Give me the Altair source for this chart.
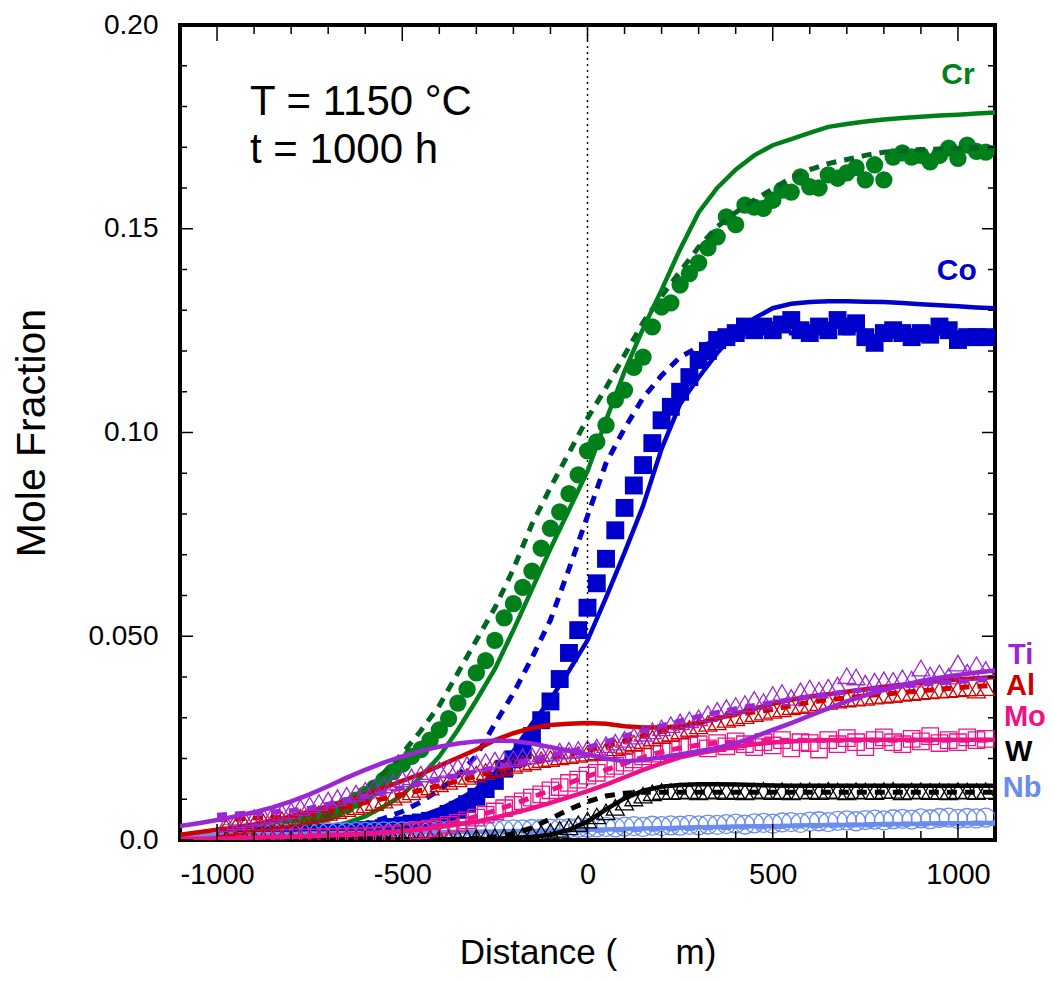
import altair as alt
import pandas as pd

# ---------------- data ----------------
x_line = [-1100, -1050, -1000, -950, -900, -850, -800, -750, -700, -650,
          -600, -550, -500, -450, -400, -350, -300, -250, -200, -150,
          -100, -50, 0, 50, 100, 150, 200, 250, 300, 350,
          400, 450, 500, 550, 600, 650, 700, 750, 800, 850,
          900, 950, 1000, 1050, 1100]

x_meas = [-975, -950, -925, -900, -875, -850, -825, -800, -775, -750,
          -725, -700, -675, -650, -625, -600, -575, -550, -525, -500,
          -475, -450, -425, -400, -375, -350, -325, -300, -275, -250,
          -225, -200, -175, -150, -125, -100, -75, -50, -25, 0,
          25, 50, 75, 100, 125, 150, 175, 200, 225, 250,
          275, 300, 325, 350, 375, 400, 425, 450, 475, 500,
          525, 550, 575, 600, 625, 650, 675, 700, 725, 750,
          775, 800, 825, 850, 875, 900, 925, 950, 975, 1000,
          1025, 1050, 1075]

# Cr
cr_meas = [0.0010, 0.0011, 0.0013, 0.0017, 0.0022, 0.0026, 0.0031, 0.0036, 0.0043, 0.0050,
           0.0058, 0.0066, 0.0075, 0.0085, 0.0098, 0.0112, 0.0128, 0.0147, 0.0168, 0.0186,
           0.0205, 0.0222, 0.0245, 0.0270, 0.0298, 0.0336, 0.0370, 0.0410, 0.0440, 0.0490,
           0.0545, 0.0580, 0.0620, 0.0660, 0.0716, 0.0765, 0.0805, 0.0850, 0.0896, 0.0955,
           0.0977, 0.1018, 0.1080, 0.1104, 0.1160, 0.1185, 0.1259, 0.1308, 0.1318, 0.1362,
           0.1390, 0.1416, 0.1453, 0.1480, 0.1529, 0.1510, 0.1558, 0.1553, 0.1550, 0.1570,
           0.1595, 0.1590, 0.1627, 0.1603, 0.1600, 0.1632, 0.1624, 0.1637, 0.1650, 0.1620,
           0.1657, 0.1620, 0.1676, 0.1686, 0.1676, 0.1680, 0.1664, 0.1680, 0.1698, 0.1673,
           0.1705, 0.1690, 0.1688]
cr_solid = [0.0005, 0.0007, 0.0009, 0.0011, 0.0013, 0.0016, 0.0020, 0.0025, 0.0032, 0.0042,
            0.0058, 0.0082, 0.0110, 0.0155, 0.0205, 0.0270, 0.0343, 0.0420, 0.0515, 0.0615,
            0.0715, 0.0810, 0.0905, 0.1030, 0.1150, 0.1255, 0.1350, 0.1450, 0.1540, 0.1600,
            0.1645, 0.1680, 0.1705, 0.1720, 0.1735, 0.1750, 0.1757, 0.1763, 0.1768, 0.1772,
            0.1775, 0.1778, 0.1780, 0.1783, 0.1785]
cr_dash = [0.0005, 0.0007, 0.0009, 0.0012, 0.0016, 0.0022, 0.0030, 0.0042, 0.0060, 0.0085,
           0.0120, 0.0165, 0.0212, 0.0268, 0.0330, 0.0410, 0.0490, 0.0570, 0.0665, 0.0775,
           0.0865, 0.0950, 0.1035, 0.1110, 0.1190, 0.1270, 0.1335, 0.1395, 0.1455, 0.1505,
           0.1540, 0.1570, 0.1598, 0.1625, 0.1645, 0.1660, 0.1670, 0.1680, 0.1688, 0.1692,
           0.1694, 0.1696, 0.1697, 0.1698, 0.1699]

# Co
co_meas = [0.0010, 0.0010, 0.0010, 0.0010, 0.0011, 0.0012, 0.0012, 0.0013, 0.0014, 0.0015,
           0.0016, 0.0017, 0.0018, 0.0020, 0.0022, 0.0024, 0.0026, 0.0029, 0.0032, 0.0036,
           0.0040, 0.0043, 0.0047, 0.0052, 0.0064, 0.0074, 0.0088, 0.0106, 0.0125, 0.0145,
           0.0175, 0.0198, 0.0220, 0.0255, 0.0294, 0.0340, 0.0395, 0.0459, 0.0515, 0.0570,
           0.0630, 0.0690, 0.0760, 0.0815, 0.0870, 0.0920, 0.0974, 0.1030, 0.1063, 0.1100,
           0.1136, 0.1178, 0.1200, 0.1227, 0.1234, 0.1244, 0.1260, 0.1251, 0.1260, 0.1251,
           0.1265, 0.1276, 0.1251, 0.1244, 0.1260, 0.1251, 0.1276, 0.1260, 0.1268, 0.1234,
           0.1220, 0.1244, 0.1251, 0.1244, 0.1234, 0.1244, 0.1240, 0.1260, 0.1251, 0.1227,
           0.1234, 0.1234, 0.1234]
co_solid = [0.0003, 0.0004, 0.0005, 0.0006, 0.0007, 0.0008, 0.0010, 0.0012, 0.0015, 0.0019,
            0.0025, 0.0033, 0.0044, 0.0058, 0.0075, 0.0098, 0.0125, 0.0165, 0.0218, 0.0285,
            0.0345, 0.0415, 0.0490, 0.0595, 0.0705, 0.0820, 0.0960, 0.1070, 0.1135, 0.1195,
            0.1245, 0.1280, 0.1305, 0.1316, 0.1320, 0.1322, 0.1322, 0.1321, 0.1320, 0.1318,
            0.1315, 0.1312, 0.1310, 0.1307, 0.1305]
co_dash = [0.0003, 0.0004, 0.0005, 0.0006, 0.0008, 0.0010, 0.0013, 0.0017, 0.0022, 0.0030,
           0.0040, 0.0053, 0.0070, 0.0093, 0.0123, 0.0158, 0.0207, 0.0285, 0.0360, 0.0447,
           0.0540, 0.0665, 0.0795, 0.0925, 0.1010, 0.1085, 0.1140, 0.1185, 0.1210, 0.1225,
           0.1235, 0.1240, 0.1243, 0.1244, 0.1245, 0.1245, 0.1245, 0.1245, 0.1245, 0.1245,
           0.1245, 0.1245, 0.1245, 0.1245, 0.1245]

# Ti
ti_meas = [0.0040, 0.0045, 0.0050, 0.0055, 0.0058, 0.0062, 0.0068, 0.0072, 0.0080, 0.0086,
           0.0092, 0.0098, 0.0104, 0.0110, 0.0115, 0.0122, 0.0128, 0.0135, 0.0142, 0.0150,
           0.0155, 0.0162, 0.0168, 0.0172, 0.0176, 0.0180, 0.0185, 0.0188, 0.0192, 0.0196,
           0.0198, 0.0200, 0.0204, 0.0207, 0.0212, 0.0213, 0.0218, 0.0220, 0.0222, 0.0225,
           0.0228, 0.0234, 0.0240, 0.0247, 0.0255, 0.0262, 0.0268, 0.0275, 0.0283, 0.0290,
           0.0295, 0.0300, 0.0310, 0.0318, 0.0325, 0.0330, 0.0335, 0.0345, 0.0340, 0.0357,
           0.0362, 0.0350, 0.0366, 0.0373, 0.0368, 0.0375, 0.0380, 0.0403, 0.0400, 0.0385,
           0.0390, 0.0393, 0.0392, 0.0398, 0.0395, 0.0422, 0.0405, 0.0410, 0.0402, 0.0434,
           0.0412, 0.0430, 0.0418]
ti_solid = [0.0034, 0.0041, 0.0049, 0.0058, 0.0068, 0.0080, 0.0095, 0.0112, 0.0132, 0.0153,
            0.0172, 0.0190, 0.0205, 0.0218, 0.0229, 0.0237, 0.0242, 0.0244, 0.0243, 0.0237,
            0.0228, 0.0219, 0.0210, 0.0200, 0.0193, 0.0196, 0.0203, 0.0210, 0.0218, 0.0226,
            0.0237, 0.0253, 0.0270, 0.0287, 0.0305, 0.0323, 0.0340, 0.0355, 0.0368, 0.0380,
            0.0390, 0.0398, 0.0405, 0.0411, 0.0416]
ti_dash = [0.0055, 0.0058, 0.0061, 0.0064, 0.0067, 0.0069, 0.0072, 0.0078, 0.0088, 0.0098,
           0.0108, 0.0118, 0.0128, 0.0138, 0.0148, 0.0158, 0.0168, 0.0178, 0.0188, 0.0198,
           0.0208, 0.0217, 0.0227, 0.0241, 0.0255, 0.0268, 0.0280, 0.0292, 0.0303, 0.0313,
           0.0322, 0.0330, 0.0337, 0.0345, 0.0352, 0.0358, 0.0364, 0.0369, 0.0374, 0.0378,
           0.0382, 0.0386, 0.0389, 0.0392, 0.0395]

# Al
al_meas = [0.0030, 0.0033, 0.0036, 0.0040, 0.0044, 0.0047, 0.0050, 0.0053, 0.0056, 0.0060,
           0.0064, 0.0068, 0.0072, 0.0077, 0.0082, 0.0086, 0.0092, 0.0098, 0.0105, 0.0112,
           0.0118, 0.0124, 0.0130, 0.0138, 0.0144, 0.0150, 0.0156, 0.0162, 0.0168, 0.0174,
           0.0178, 0.0183, 0.0188, 0.0192, 0.0197, 0.0200, 0.0204, 0.0207, 0.0210, 0.0213,
           0.0216, 0.0220, 0.0226, 0.0232, 0.0238, 0.0243, 0.0250, 0.0256, 0.0262, 0.0268,
           0.0274, 0.0280, 0.0286, 0.0290, 0.0296, 0.0300, 0.0305, 0.0310, 0.0314, 0.0318,
           0.0322, 0.0327, 0.0330, 0.0333, 0.0337, 0.0340, 0.0343, 0.0346, 0.0348, 0.0350,
           0.0353, 0.0355, 0.0357, 0.0360, 0.0362, 0.0364, 0.0366, 0.0368, 0.0369, 0.0371,
           0.0373, 0.0368, 0.0374]
al_solid = [0.0013, 0.0019, 0.0025, 0.0031, 0.0038, 0.0048, 0.0058, 0.0070, 0.0083, 0.0097,
            0.0112, 0.0128, 0.0145, 0.0162, 0.0182, 0.0202, 0.0222, 0.0245, 0.0262, 0.0275,
            0.0282, 0.0285, 0.0287, 0.0285, 0.0279, 0.0276, 0.0276, 0.0279, 0.0287, 0.0298,
            0.0310, 0.0322, 0.0334, 0.0344, 0.0352, 0.0358, 0.0364, 0.0370, 0.0376, 0.0381,
            0.0386, 0.0390, 0.0394, 0.0397, 0.0400]
al_dash = [0.0045, 0.0047, 0.0050, 0.0052, 0.0054, 0.0055, 0.0058, 0.0064, 0.0072, 0.0082,
           0.0092, 0.0102, 0.0112, 0.0122, 0.0133, 0.0145, 0.0157, 0.0169, 0.0180, 0.0190,
           0.0200, 0.0210, 0.0220, 0.0230, 0.0243, 0.0256, 0.0266, 0.0277, 0.0288, 0.0299,
           0.0308, 0.0314, 0.0320, 0.0330, 0.0338, 0.0344, 0.0349, 0.0354, 0.0358, 0.0362,
           0.0366, 0.0370, 0.0374, 0.0377, 0.0380]

# Mo
mo_meas = [0.0005, 0.0005, 0.0005, 0.0005, 0.0005, 0.0005, 0.0005, 0.0006, 0.0006, 0.0006,
           0.0006, 0.0007, 0.0007, 0.0008, 0.0008, 0.0009, 0.0010, 0.0012, 0.0014, 0.0017,
           0.0020, 0.0024, 0.0028, 0.0032, 0.0037, 0.0042, 0.0048, 0.0055, 0.0062, 0.0070,
           0.0078, 0.0086, 0.0095, 0.0104, 0.0112, 0.0122, 0.0130, 0.0140, 0.0148, 0.0158,
           0.0165, 0.0175, 0.0182, 0.0190, 0.0198, 0.0205, 0.0212, 0.0218, 0.0222, 0.0228,
           0.0232, 0.0235, 0.0225, 0.0238, 0.0230, 0.0242, 0.0235, 0.0228, 0.0240, 0.0232,
           0.0245, 0.0225, 0.0240, 0.0238, 0.0222, 0.0245, 0.0235, 0.0250, 0.0240, 0.0228,
           0.0245, 0.0252, 0.0240, 0.0235, 0.0248, 0.0242, 0.0255, 0.0238, 0.0245, 0.0240,
           0.0252, 0.0245, 0.0248]
mo_solid = [0.0003, 0.0003, 0.0004, 0.0005, 0.0006, 0.0007, 0.0008, 0.0009, 0.0011, 0.0013,
            0.0015, 0.0018, 0.0022, 0.0026, 0.0032, 0.0038, 0.0045, 0.0055, 0.0066, 0.0078,
            0.0091, 0.0105, 0.0120, 0.0136, 0.0154, 0.0172, 0.0188, 0.0203, 0.0213, 0.0221,
            0.0229, 0.0235, 0.0239, 0.0242, 0.0244, 0.0245, 0.0246, 0.0246, 0.0246, 0.0246,
            0.0246, 0.0246, 0.0246, 0.0246, 0.0246]
mo_dash = [0.0003, 0.0003, 0.0004, 0.0005, 0.0006, 0.0007, 0.0008, 0.0010, 0.0012, 0.0014,
           0.0016, 0.0019, 0.0022, 0.0028, 0.0035, 0.0045, 0.0058, 0.0072, 0.0088, 0.0105,
           0.0122, 0.0140, 0.0156, 0.0172, 0.0188, 0.0203, 0.0216, 0.0226, 0.0233, 0.0238,
           0.0241, 0.0243, 0.0244, 0.0245, 0.0245, 0.0245, 0.0245, 0.0245, 0.0245, 0.0245,
           0.0245, 0.0245, 0.0245, 0.0245, 0.0245]

# W
w_meas = [0.0003, 0.0003, 0.0003, 0.0003, 0.0003, 0.0003, 0.0003, 0.0003, 0.0003, 0.0003,
          0.0003, 0.0003, 0.0003, 0.0003, 0.0003, 0.0003, 0.0003, 0.0003, 0.0003, 0.0003,
          0.0003, 0.0003, 0.0004, 0.0004, 0.0004, 0.0005, 0.0005, 0.0006, 0.0007, 0.0008,
          0.0008, 0.0009, 0.0011, 0.0013, 0.0016, 0.0020, 0.0026, 0.0032, 0.0040, 0.0049,
          0.0059, 0.0069, 0.0080, 0.0093, 0.0103, 0.0110, 0.0116, 0.0119, 0.0119, 0.0120,
          0.0121, 0.0118, 0.0120, 0.0122, 0.0119, 0.0121, 0.0118, 0.0120, 0.0122, 0.0119,
          0.0121, 0.0118, 0.0120, 0.0121, 0.0119, 0.0122, 0.0120, 0.0118, 0.0121, 0.0120,
          0.0119, 0.0121, 0.0122, 0.0118, 0.0120, 0.0121, 0.0119, 0.0120, 0.0118, 0.0121,
          0.0120, 0.0119, 0.0121]
w_solid = [0.0002, 0.0002, 0.0002, 0.0002, 0.0002, 0.0002, 0.0002, 0.0002, 0.0002, 0.0002,
           0.0002, 0.0002, 0.0002, 0.0002, 0.0002, 0.0002, 0.0002, 0.0003, 0.0005, 0.0008,
           0.0013, 0.0025, 0.0045, 0.0075, 0.0102, 0.0121, 0.0131, 0.0135, 0.0137, 0.0137,
           0.0136, 0.0135, 0.0134, 0.0133, 0.0133, 0.0133, 0.0133, 0.0133, 0.0133, 0.0133,
           0.0133, 0.0133, 0.0133, 0.0133, 0.0133]
w_dash = [0.0002, 0.0002, 0.0002, 0.0002, 0.0002, 0.0002, 0.0002, 0.0002, 0.0002, 0.0002,
          0.0002, 0.0002, 0.0002, 0.0002, 0.0002, 0.0002, 0.0004, 0.0008, 0.0015, 0.0030,
          0.0052, 0.0075, 0.0094, 0.0108, 0.0115, 0.0117, 0.0117, 0.0117, 0.0117, 0.0117,
          0.0117, 0.0117, 0.0117, 0.0117, 0.0117, 0.0117, 0.0117, 0.0117, 0.0117, 0.0117,
          0.0117, 0.0117, 0.0117, 0.0117, 0.0117]

# Nb
nb_meas = [0.0015, 0.0015, 0.0016, 0.0016, 0.0016, 0.0017, 0.0017, 0.0017, 0.0018, 0.0018,
           0.0018, 0.0019, 0.0019, 0.0019, 0.0020, 0.0020, 0.0020, 0.0021, 0.0021, 0.0021,
           0.0022, 0.0022, 0.0022, 0.0023, 0.0023, 0.0023, 0.0024, 0.0024, 0.0024, 0.0025,
           0.0025, 0.0026, 0.0026, 0.0027, 0.0027, 0.0028, 0.0028, 0.0029, 0.0030, 0.0030,
           0.0031, 0.0032, 0.0031, 0.0033, 0.0034, 0.0032, 0.0035, 0.0034, 0.0036, 0.0035,
           0.0037, 0.0036, 0.0038, 0.0037, 0.0039, 0.0040, 0.0038, 0.0041, 0.0042, 0.0040,
           0.0043, 0.0044, 0.0042, 0.0045, 0.0046, 0.0044, 0.0047, 0.0048, 0.0046, 0.0049,
           0.0050, 0.0048, 0.0051, 0.0052, 0.0050, 0.0053, 0.0051, 0.0054, 0.0055, 0.0052,
           0.0054, 0.0053, 0.0055]
nb_solid = [0.0012, 0.0013, 0.0013, 0.0014, 0.0014, 0.0015, 0.0015, 0.0016, 0.0016, 0.0017,
            0.0017, 0.0018, 0.0018, 0.0019, 0.0019, 0.0020, 0.0020, 0.0021, 0.0022, 0.0022,
            0.0023, 0.0024, 0.0025, 0.0026, 0.0027, 0.0028, 0.0029, 0.0030, 0.0031, 0.0032,
            0.0033, 0.0034, 0.0034, 0.0035, 0.0036, 0.0037, 0.0037, 0.0038, 0.0039, 0.0039,
            0.0040, 0.0041, 0.0041, 0.0042, 0.0042]
nb_dash = [0.0010, 0.0010, 0.0011, 0.0011, 0.0012, 0.0012, 0.0013, 0.0013, 0.0014, 0.0014,
           0.0015, 0.0015, 0.0016, 0.0016, 0.0017, 0.0017, 0.0018, 0.0019, 0.0019, 0.0020,
           0.0021, 0.0022, 0.0023, 0.0024, 0.0025, 0.0026, 0.0027, 0.0028, 0.0029, 0.0030,
           0.0031, 0.0032, 0.0033, 0.0034, 0.0035, 0.0036, 0.0037, 0.0037, 0.0038, 0.0039,
           0.0039, 0.0040, 0.0040, 0.0041, 0.0041]

# axis ticks
x_major = [-1000, -500, 0, 500, 1000]
x_minor = [-1100, -900, -800, -700, -600, -400, -300, -200, -100,
           100, 200, 300, 400, 600, 700, 800, 900, 1100]
y_major = [0.0, 0.05, 0.10, 0.15, 0.20]
y_minor = [0.01, 0.02, 0.03, 0.04, 0.06, 0.07, 0.08, 0.09,
           0.11, 0.12, 0.13, 0.14, 0.16, 0.17, 0.18, 0.19]

# annotations
cond_text = ["T = 1150 °C", "t = 1000 h"]
cond_x = [-911, -911]
cond_y = [0.1779, 0.1661]

inner_labels = ["Cr", "Co"]
inner_x = [1000, 997]
inner_y = [0.1877, 0.1396]
inner_colors = ["#00801A", "#0000CC"]

outer_labels = ["Ti", "Al", "Mo", "W", "Nb"]
outer_x = [1135, 1130, 1124, 1127, 1121]
outer_y = [0.0454, 0.0378, 0.0302, 0.0216, 0.0128]
outer_colors = ["#9B26D4", "#D00000", "#EE1188", "#000000", "#6A8CF0"]

# ---------------- chart ----------------
W, H = 815, 815
FONT = "Liberation Sans"
NB = "\u00a0"

xscale = alt.Scale(domain=[-1100, 1100], nice=False, zero=False)
yscale = alt.Scale(domain=[0, 0.2], nice=False, zero=False)

xaxis = alt.Axis(values=x_major, labelExpr="'' + datum.value",
                 title="Distance (" + NB * 6 + "m)", labelFontSize=29, titleFontSize=35,
                 labelFont=FONT, titleFont=FONT, titleFontWeight="normal",
                 ticks=False, tickSize=0, domain=False, grid=False,
                 labelPadding=20, titlePadding=46, labelColor="black",
                 titleColor="black", labelFlush=False)
yaxis = alt.Axis(values=y_major,
                 labelExpr="datum.value == 0 ? '0.0' : (abs(datum.value - 0.05) < 1e-9 ? '0.050' : format(datum.value, '.2f'))",
                 title="Mole Fraction", labelFontSize=28, titleFontSize=41,
                 labelFont=FONT, titleFont=FONT, titleFontWeight="normal",
                 ticks=False, tickSize=0, domain=False, grid=False,
                 labelPadding=22, titlePadding=34, labelColor="black",
                 titleColor="black", labelFlush=False)


def X():
    return alt.X("x:Q", scale=xscale, axis=xaxis)


def Y():
    return alt.Y("y:Q", scale=yscale, axis=yaxis)


layers = []

# dotted zero line
zero_df = pd.DataFrame({"x": [0, 0], "y": [0.0, 0.2]})
layers.append(alt.Chart(zero_df).mark_line(color="black", strokeWidth=1.4,
                                           strokeDash=[2, 4]).encode(x=X(), y=Y()))


def line(xs, ys, color, dashed=False):
    df = pd.DataFrame({"x": xs, "y": ys})
    if dashed:
        df = df[df["x"] >= -1000]
        m = alt.Chart(df).mark_line(color=color, strokeWidth=5, strokeDash=[10, 8],
                                    clip=True)
    else:
        m = alt.Chart(df).mark_line(color=color, strokeWidth=4.5, clip=True)
    return m.encode(x=X(), y=Y())


def points(xs, ys, color, shape, filled, size):
    df = pd.DataFrame({"x": xs, "y": ys})
    if filled:
        m = alt.Chart(df).mark_point(shape=shape, filled=True, color=color, size=size,
                                     opacity=1, clip=True)
    else:
        m = alt.Chart(df).mark_point(shape=shape, filled=False, color=color, size=size,
                                     opacity=1, strokeWidth=1.3, clip=True)
    return m.encode(x=X(), y=Y())


series = [
    # meas, solid, dash, color, dash color, shape, filled, size
    (cr_meas, cr_solid, cr_dash, "#00801A", "#006622", "circle", True, 300),
    (co_meas, co_solid, co_dash, "#0000CC", "#0000CC", "square", True, 320),
    (nb_meas, nb_solid, nb_dash, "#6A8CF0", "#6A8CF0", "circle", False, 360),
    (w_meas, w_solid, w_dash, "#000000", "#000000", "triangle-up", False, 320),
    (mo_meas, mo_solid, mo_dash, "#EE1188", "#EE1188", "square", False, 270),
    (al_meas, al_solid, al_dash, "#D00000", "#D00000", "triangle-up", False, 320),
    (ti_meas, ti_solid, ti_dash, "#9B26D4", "#9B26D4", "triangle-up", False, 320),
]

for meas, solid, dash, col, dcol, shape, filled, size in series:
    layers.append(points(x_meas, meas, col, shape, filled, size))
    layers.append(line(x_line, dash, dcol, dashed=True))
    layers.append(line(x_line, solid, col))

# inward ticks on all four sides
ymaj_df = pd.DataFrame({"y": y_major})
ymin_df = pd.DataFrame({"y": y_minor})
xmaj_df = pd.DataFrame({"x": x_major})
xmin_df = pd.DataFrame({"x": x_minor})
tick = dict(color="black", strokeWidth=1.5)
layers += [
    alt.Chart(ymaj_df).mark_rule(**tick).encode(y=Y(), x=alt.value(0), x2=alt.value(13)),
    alt.Chart(ymin_df).mark_rule(**tick).encode(y=Y(), x=alt.value(0), x2=alt.value(7)),
    alt.Chart(ymaj_df).mark_rule(**tick).encode(y=Y(), x=alt.value(W), x2=alt.value(W - 13)),
    alt.Chart(ymin_df).mark_rule(**tick).encode(y=Y(), x=alt.value(W), x2=alt.value(W - 7)),
    alt.Chart(xmaj_df).mark_rule(**tick).encode(x=X(), y=alt.value(0), y2=alt.value(16)),
    alt.Chart(xmin_df).mark_rule(**tick).encode(x=X(), y=alt.value(0), y2=alt.value(9)),
    alt.Chart(xmaj_df).mark_rule(**tick).encode(x=X(), y=alt.value(H), y2=alt.value(H - 16)),
    alt.Chart(xmin_df).mark_rule(**tick).encode(x=X(), y=alt.value(H), y2=alt.value(H - 9)),
]

# annotations
cond_df = pd.DataFrame({"x": cond_x, "y": cond_y, "t": cond_text})
layers.append(alt.Chart(cond_df).mark_text(align="left", baseline="alphabetic", font=FONT,
                                           fontSize=42, color="black")
              .encode(x=X(), y=Y(), text="t:N"))

for lab, lx, ly, c in zip(inner_labels, inner_x, inner_y, inner_colors):
    df = pd.DataFrame({"x": [lx], "y": [ly], "t": [lab]})
    layers.append(alt.Chart(df).mark_text(align="center", baseline="middle", font=FONT,
                                          fontSize=30, fontWeight="bold", color=c)
                  .encode(x=X(), y=Y(), text="t:N"))

for lab, lx, ly, c in zip(outer_labels, outer_x, outer_y, outer_colors):
    df = pd.DataFrame({"x": [lx], "y": [ly], "t": [lab]})
    layers.append(alt.Chart(df).mark_text(align="left", baseline="middle", font=FONT,
                                          fontSize=29, fontWeight="bold", color=c)
                  .encode(x=X(), y=Y(), text="t:N"))

chart = alt.layer(*layers).properties(
    width=W, height=H,
    padding={"left": 180, "top": 25, "right": 59, "bottom": 142},
    autosize=alt.AutoSizeParams(type="none"),
    background="white",
).configure_view(stroke="black", strokeWidth=4)

chart.save("out.html", embed_options={"renderer": "svg", "actions": False})
